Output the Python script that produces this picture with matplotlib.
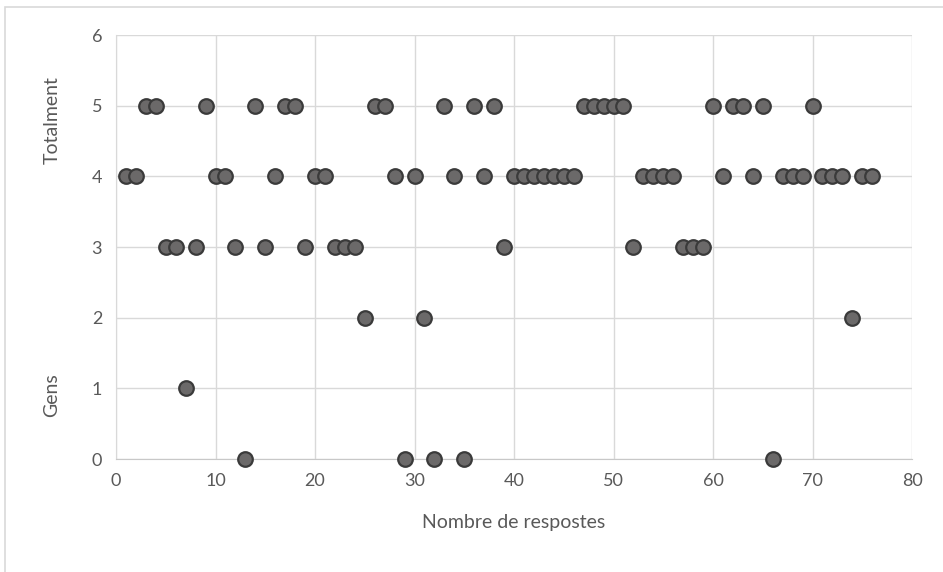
import matplotlib
matplotlib.use("Agg")
import matplotlib.pyplot as plt
from matplotlib.patches import Rectangle

# respostes 1..76
x = list(range(1, 77))
y = [4, 4, 5, 5, 3, 3, 1, 3, 5, 4,
     4, 3, 0, 5, 3, 4, 5, 5, 3, 4,
     4, 3, 3, 3, 2, 5, 5, 4, 0, 4,
     2, 0, 5, 4, 0, 5, 4, 5, 3, 4,
     4, 4, 4, 4, 4, 4, 5, 5, 5, 5,
     5, 3, 4, 4, 4, 4, 3, 3, 3, 5,
     4, 5, 5, 4, 5, 0, 4, 4, 4, 5,
     4, 4, 4, 2, 4, 4]

plt.rcParams['font.family'] = ['Lato', 'DejaVu Sans']
txt = '#595959'

fig = plt.figure(figsize=(9.43, 5.72), dpi=100)
ax = fig.add_axes([116/943, 1 - 459/572, (912-116)/943, (459-35)/572])

# chart-area border
fig.patches.append(Rectangle((5/943, -0.1), 1.1, 1 - 7/572 + 0.1, transform=fig.transFigure,
                             fill=False, edgecolor='#d9d9d9', linewidth=1.2))

ax.scatter(x, y, s=110, c='#6b6969', edgecolors='#3a3a3a', linewidths=1.6, zorder=3, clip_on=False)

ax.set_xlim(0, 80)
ax.set_ylim(0, 6)
ax.set_xticks(range(0, 81, 10))
ax.set_yticks(range(0, 7))
ax.grid(True, color='#d9d9d9', linewidth=1)
ax.set_axisbelow(True)
for s in ['top', 'right']:
    ax.spines[s].set_visible(False)
ax.spines['left'].set_color('#d9d9d9')
ax.spines['bottom'].set_color('#c8c8c8')
ax.tick_params(length=0, labelsize=13, labelcolor=txt, pad=10)

ax.set_xlabel('Nombre de respostes', fontsize=14, color=txt, labelpad=18)
fig.text(52/943, 1 - 120/572, 'Totalment', rotation=90, ha='center', va='center', fontsize=14, color=txt)
fig.text(52/943, 1 - 395/572, 'Gens', rotation=90, ha='center', va='center', fontsize=14, color=txt)

fig.savefig('out.png', dpi=100)
